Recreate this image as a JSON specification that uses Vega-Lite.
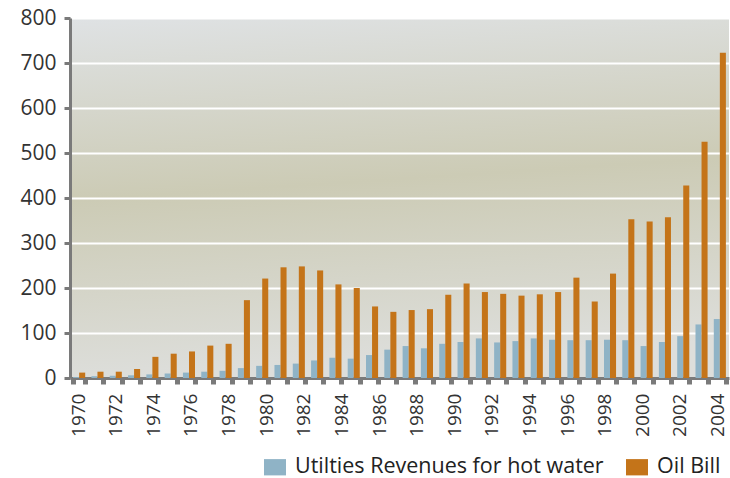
{
  "$schema": "https://vega.github.io/schema/vega-lite/v6.json",
  "width": 659,
  "height": 360,
  "autosize": "none",
  "padding": {"left": 70, "top": 18, "right": 1, "bottom": 100},
  "background": "white",
  "config": {
    "font": "Open Sans",
    "view": {
      "stroke": null,
      "fill": {
        "gradient": "linear",
        "x1": 0, "y1": 0, "x2": 0.12, "y2": 1,
        "stops": [
          {"offset": 0, "color": "#dfe2e4"},
          {"offset": 0.5, "color": "#cccbb5"},
          {"offset": 1, "color": "#dddedb"}
        ]
      }
    }
  },
  "data": {
    "values": [
      {"year": 1970, "Utilties Revenues for hot water": 2, "Oil Bill": 12},
      {"year": 1971, "Utilties Revenues for hot water": 4, "Oil Bill": 14},
      {"year": 1972, "Utilties Revenues for hot water": 5, "Oil Bill": 14},
      {"year": 1973, "Utilties Revenues for hot water": 6, "Oil Bill": 20},
      {"year": 1974, "Utilties Revenues for hot water": 8, "Oil Bill": 47},
      {"year": 1975, "Utilties Revenues for hot water": 10, "Oil Bill": 54},
      {"year": 1976, "Utilties Revenues for hot water": 12, "Oil Bill": 59},
      {"year": 1977, "Utilties Revenues for hot water": 14, "Oil Bill": 72},
      {"year": 1978, "Utilties Revenues for hot water": 16, "Oil Bill": 76},
      {"year": 1979, "Utilties Revenues for hot water": 22, "Oil Bill": 173},
      {"year": 1980, "Utilties Revenues for hot water": 27, "Oil Bill": 221},
      {"year": 1981, "Utilties Revenues for hot water": 29, "Oil Bill": 246},
      {"year": 1982, "Utilties Revenues for hot water": 32, "Oil Bill": 248},
      {"year": 1983, "Utilties Revenues for hot water": 39, "Oil Bill": 239},
      {"year": 1984, "Utilties Revenues for hot water": 45, "Oil Bill": 208},
      {"year": 1985, "Utilties Revenues for hot water": 43, "Oil Bill": 200},
      {"year": 1986, "Utilties Revenues for hot water": 51, "Oil Bill": 159},
      {"year": 1987, "Utilties Revenues for hot water": 63, "Oil Bill": 147},
      {"year": 1988, "Utilties Revenues for hot water": 71, "Oil Bill": 151},
      {"year": 1989, "Utilties Revenues for hot water": 66, "Oil Bill": 153},
      {"year": 1990, "Utilties Revenues for hot water": 76, "Oil Bill": 185},
      {"year": 1991, "Utilties Revenues for hot water": 80, "Oil Bill": 210},
      {"year": 1992, "Utilties Revenues for hot water": 88, "Oil Bill": 191},
      {"year": 1993, "Utilties Revenues for hot water": 79, "Oil Bill": 187},
      {"year": 1994, "Utilties Revenues for hot water": 82, "Oil Bill": 183},
      {"year": 1995, "Utilties Revenues for hot water": 88, "Oil Bill": 186},
      {"year": 1996, "Utilties Revenues for hot water": 85, "Oil Bill": 191},
      {"year": 1997, "Utilties Revenues for hot water": 84, "Oil Bill": 223},
      {"year": 1998, "Utilties Revenues for hot water": 84, "Oil Bill": 170},
      {"year": 1999, "Utilties Revenues for hot water": 85, "Oil Bill": 232},
      {"year": 2000, "Utilties Revenues for hot water": 84, "Oil Bill": 353},
      {"year": 2001, "Utilties Revenues for hot water": 71, "Oil Bill": 348},
      {"year": 2002, "Utilties Revenues for hot water": 80, "Oil Bill": 357},
      {"year": 2003, "Utilties Revenues for hot water": 93, "Oil Bill": 428},
      {"year": 2004, "Utilties Revenues for hot water": 119, "Oil Bill": 525},
      {"year": 2005, "Utilties Revenues for hot water": 131, "Oil Bill": 723}
    ]
  },
  "transform": [
    {"fold": ["Utilties Revenues for hot water", "Oil Bill"], "as": ["series", "value"]}
  ],
  "mark": {"type": "bar", "strokeWidth": 0},
  "encoding": {
    "x": {
      "field": "year",
      "type": "ordinal",
      "scale": {"paddingInner": 0.34, "paddingOuter": 0.17},
      "axis": {
        "title": null,
        "labelAngle": 270,
        "labelExpr": "datum.value % 2 == 0 ? datum.label : ''",
        "labelOffset": {"expr": "(datum.value - 1970) * 0.5 - 1"},
        "labelFontSize": 19,
        "labelColor": "#333333",
        "labelPadding": 9,
        "tickBand": "extent",
        "tickSize": 6,
        "tickWidth": 5,
        "tickColor": "#7a7a7a",
        "domainColor": "#7a7a7a",
        "domainWidth": 3,
        "grid": false
      }
    },
    "xOffset": {
      "field": "series",
      "sort": ["Utilties Revenues for hot water", "Oil Bill"]
    },
    "y": {
      "field": "value",
      "type": "quantitative",
      "scale": {"domain": [0, 800], "nice": false},
      "axis": {
        "title": null,
        "values": [0, 100, 200, 300, 400, 500, 600, 700, 800],
        "grid": true,
        "gridColor": "#ffffff",
        "gridWidth": 2,
        "gridOpacity": 1,
        "domainColor": "#7a7a7a",
        "domainWidth": 3,
        "tickColor": "#7a7a7a",
        "tickWidth": 3,
        "tickSize": 6,
        "labelFontSize": 21,
        "labelColor": "#333333",
        "labelPadding": 8
      }
    },
    "color": {
      "field": "series",
      "type": "nominal",
      "scale": {
        "domain": ["Utilties Revenues for hot water", "Oil Bill"],
        "range": ["#8fb3c6", "#c47419"]
      },
      "legend": {
        "title": null,
        "orient": "none",
        "direction": "horizontal",
        "legendX": 194,
        "legendY": 438,
        "symbolType": "M-1,-0.74H1V0.74H-1Z",
        "symbolSize": 484,
        "symbolStrokeWidth": 0,
        "labelFontSize": 21.5,
        "labelColor": "#222222",
        "labelLimit": 400,
        "columnPadding": 22,
        "labelOffset": 9
      }
    }
  }
}
